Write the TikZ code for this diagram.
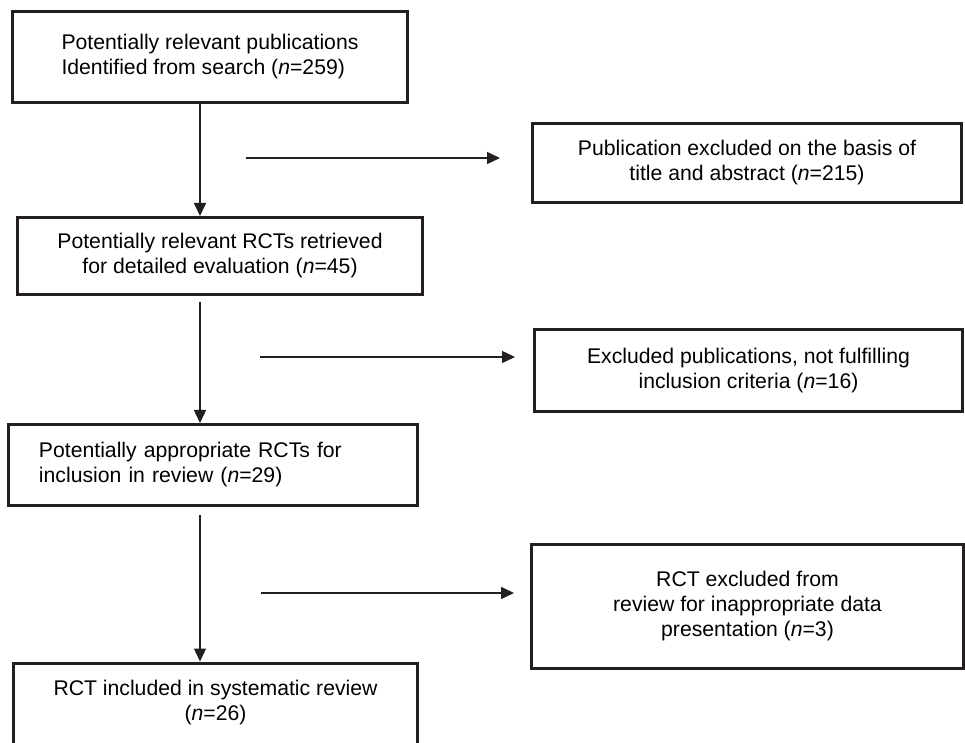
\documentclass[tikz,border=0pt]{standalone}
\usepackage{fontspec}
\setmainfont{Liberation Sans}
\usetikzlibrary{arrows.meta}
\definecolor{ink}{HTML}{231F20}

\begin{document}
\begin{tikzpicture}
	[x=0.5pt,y=-0.5pt,font=\fontsize{10.6}{12.5}\selectfont,
	box/.style={draw=ink,line width=1.5pt,inner sep=0pt,align=center},
	arr/.style={draw=ink,line width=0.75pt,-{Triangle[length=6.5pt,width=6pt]}}]
	\useasboundingbox (0,0) rectangle (965,743);
	% left column
	\node[box,align=left,minimum width=197.5pt,minimum height=45.5pt] (pubs) at (210,57)
		{Potentially relevant publications\\Identified from search (\textit{n}=259)};
	\node[box,minimum width=202.5pt,minimum height=38.5pt] (rcts) at (220,256)
		{Potentially relevant RCTs retrieved\\for detailed evaluation (\textit{n}=45)};
	\node[box,align=left,text width=174pt,inner xsep=15.25pt,minimum height=40.5pt] (approp) at (213,465)
		{Potentially appropriate RCTs for\\inclusion in review (\textit{n}=29)};
	\node[box,minimum width=202pt,minimum height=50pt] (incl) at (215.5,713)
		{RCT included in systematic review\\(\textit{n}=26)\\\mbox{}};
	% right column
	\node[box,minimum width=214.5pt,minimum height=39.5pt] (excl1) at (747,163)
		{Publication excluded on the basis of\\title and abstract (\textit{n}=215)};
	\node[box,minimum width=214pt,minimum height=41pt] (excl2) at (748.5,370.5)
		{Excluded publications, not fulfilling\\inclusion criteria (\textit{n}=16)};
	\node[box,minimum width=216pt,minimum height=62pt] (excl3) at (747.5,606.5)
		{RCT excluded from\\review for inappropriate data\\presentation (\textit{n}=3)};

	\coordinate (spine) at (200,0);
	\draw[arr] (spine |- pubs.south) -- (spine |- rcts.north);
	\draw[arr,shorten <=3pt] (spine |- rcts.south) -- (spine |- approp.north);
	\draw[arr,shorten <=4pt] (spine |- approp.south) -- (spine |- incl.north);

	\coordinate (t1) at (246,158);
	\coordinate (t2) at (260,357);
	\coordinate (t3) at (261,593);
	\foreach \s/\b/\g in {t1/excl1/15.5pt,t2/excl2/9pt,t3/excl3/8pt}
	\draw[arr,shorten >=\g] (\s) -- (\s -| \b.west);
\end{tikzpicture}
\end{document}
